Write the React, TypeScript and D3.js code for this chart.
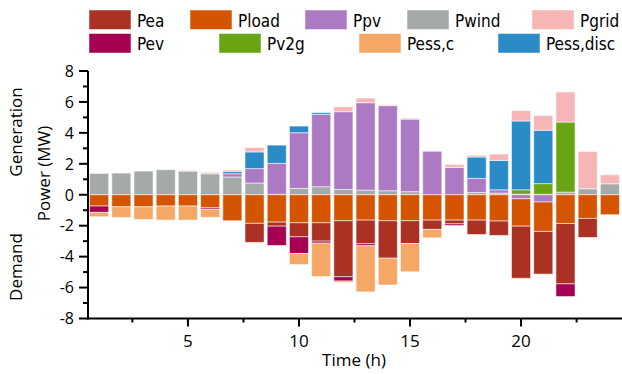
import React from "react";
import * as d3 from "d3";

const hours = d3.range(1, 25);

const Pwind = [1.38, 1.40, 1.53, 1.62, 1.53, 1.36, 1.15, 0.76, 0.03, 0.41, 0.52, 0.34, 0.30, 0.26, 0.20, 0, 0, 0.15, 0.11, 0.04, 0.03, 0.17, 0.39, 0.71];
const Ppv = [0, 0, 0, 0, 0, 0, 0.21, 0.93, 2.00, 3.60, 4.68, 5.03, 5.65, 5.50, 4.69, 2.81, 1.77, 0.91, 0.21, -0.26, -0.47, 0, 0, 0];
const Pv2g = [0, 0, 0, 0, 0, 0, 0, 0, 0, 0, 0, 0, 0, 0, 0, 0, 0, 0, 0, 0.28, 0.69, 4.53, 0, 0];
const PessDisc = [0, 0, 0, 0, 0, 0, 0.15, 1.08, 1.18, 0.43, 0.11, 0, 0, 0, 0, 0, 0, 1.38, 1.90, 4.45, 3.45, 0, 0, 0];
const Pgrid = [0, 0, 0, 0, 0.04, 0.09, 0.09, 0.28, 0, 0, 0, 0.32, 0.30, 0.06, 0.06, 0, 0.19, 0.11, 0.41, 0.67, 0.95, 1.94, 2.41, 0.58];
const Pload = [-0.73, -0.78, -0.78, -0.73, -0.73, -0.84, -1.68, -1.85, -1.77, -1.81, -1.81, -1.68, -1.64, -1.68, -1.68, -1.64, -1.64, -1.64, -1.70, -1.77, -1.90, -1.86, -1.53, -1.29];
const Pea = [0, 0, 0, 0, 0, 0, 0, -1.23, -0.26, -0.91, -1.19, -3.62, -1.53, -2.42, -1.47, -0.60, -0.24, -0.93, -0.93, -3.37, -2.76, -3.90, -1.23, 0];
const Pev = [-0.41, 0, 0, 0, 0, -0.10, 0, 0, -1.25, -1.08, -0.13, -0.28, -0.13, 0, 0, 0, -0.11, 0, 0, 0, 0, -0.82, 0, 0];
const PessC = [-0.28, -0.69, -0.82, -0.91, -0.91, -0.52, 0, 0, 0, -0.71, -2.16, -0.09, -2.98, -1.73, -1.83, -0.54, 0, 0, 0, 0, 0, 0, 0, 0];

const yTicks = [-8, -6, -4, -2, 0, 2, 4, 6, 8];
const xTicks = [5, 10, 15, 20];

const seriesMap: Record<string, number[]> = {
  Pwind, Ppv, Pload, Pea, Pev, Pv2g, "Pess,c": PessC, "Pess,disc": PessDisc, Pgrid,
};
const stackKeys = ["Pwind", "Ppv", "Pload", "Pea", "Pev", "Pv2g", "Pess,c", "Pess,disc", "Pgrid"];

const colors: Record<string, string> = {
  Pea: "#AA3123",
  Pload: "#D55401",
  Ppv: "#AC79C3",
  Pwind: "#A5AAA8",
  Pgrid: "#F6B6B5",
  Pev: "#A50052",
  Pv2g: "#69A512",
  "Pess,c": "#F5A766",
  "Pess,disc": "#2A8BC7",
};

const legendRow1 = ["Pea", "Pload", "Ppv", "Pwind", "Pgrid"];
const legendRow2 = ["Pev", "Pv2g", "Pess,c", "Pess,disc"];
const legendX1 = [89, 190, 305, 407, 532];
const legendX2 = [89, 219, 359, 498];

export default function App() {
  const W = 622, H = 374;
  const x = d3.scaleLinear().domain([0.5, 24.5]).range([88, 621]);
  const y = d3.scaleLinear().domain([-8, 8]).range([318.5, 71]);
  const unit = x(2) - x(1);
  const bw = unit * 0.86;

  const table = hours.map((h, i) => {
    const row: any = { hour: h };
    stackKeys.forEach((k) => (row[k] = seriesMap[k][i]));
    return row;
  });
  const stacked = d3.stack<any>().keys(stackKeys).offset(d3.stackOffsetDiverging)(table);

  const axisFont = "'Open Sans', 'Noto Sans', sans-serif";
  const legendFont = "'DejaVu Sans Condensed', 'DejaVu Sans', sans-serif";

  const minorY = d3.range(-7, 8, 2);
  const minorX = [2.5, 7.5, 12.5, 17.5, 22.5];

  return (
    <svg width={W} height={H} style={{ position: "absolute", left: 0, top: 0, background: "#fff" }}>
      <rect x={0} y={0} width={W} height={H} fill="#fff" />
      {stacked.map((s) => (
        <g key={s.key} fill={colors[s.key]}>
          {s.map((d, i) => {
            const y0 = d[0], y1 = d[1];
            if (Math.abs(y1 - y0) < 1e-9) return null;
            const top = y(Math.max(y0, y1));
            const bot = y(Math.min(y0, y1));
            return (
              <rect
                key={i}
                x={x(hours[i]) - bw / 2}
                y={top}
                width={bw}
                height={bot - top}
                stroke="#fff"
                strokeOpacity={0.55}
                strokeWidth={1}
              />
            );
          })}
        </g>
      ))}

      {/* Y axis */}
      <line x1={88} x2={88} y1={y(8)} y2={y(-8) + 1} stroke="#000" strokeWidth={2} />
      {yTicks.map((t) => (
        <g key={t}>
          <line x1={79} x2={88} y1={y(t)} y2={y(t)} stroke="#000" strokeWidth={2} />
          <text x={74} y={y(t)} dy="0.36em" textAnchor="end" fontFamily={axisFont} fontSize={16} fill="#000">
            {t}
          </text>
        </g>
      ))}
      {minorY.map((t) => (
        <line key={t} x1={83} x2={88} y1={y(t)} y2={y(t)} stroke="#000" strokeWidth={2} />
      ))}

      {/* X axis */}
      <line x1={87} x2={622} y1={y(-8)} y2={y(-8)} stroke="#000" strokeWidth={2} />
      {xTicks.map((t) => (
        <g key={t}>
          <line x1={x(t)} x2={x(t)} y1={y(-8)} y2={y(-8) + 8} stroke="#000" strokeWidth={2} />
          <text x={x(t)} y={347} textAnchor="middle" fontFamily={axisFont} fontSize={17} fill="#000">
            {t}
          </text>
        </g>
      ))}
      {minorX.map((t) => (
        <line key={t} x1={x(t)} x2={x(t)} y1={y(-8)} y2={y(-8) + 4} stroke="#000" strokeWidth={2} />
      ))}
      <text x={354} y={366} textAnchor="middle" fontFamily={axisFont} fontSize={17} fill="#000">
        Time (h)
      </text>

      {/* Y labels */}
      <text transform="translate(50,173.5) rotate(-90)" textAnchor="middle" fontFamily={axisFont} fontSize={17} fill="#000">
        Power (MW)
      </text>
      <text transform="translate(22,132) rotate(-90)" textAnchor="middle" fontFamily={axisFont} fontSize={17} fill="#000">
        Generation
      </text>
      <text transform="translate(22,267) rotate(-90)" textAnchor="middle" fontFamily={axisFont} fontSize={17} fill="#000">
        Demand
      </text>

      {/* Legend */}
      {legendRow1.map((k, i) => (
        <g key={k}>
          <rect x={legendX1[i]} y={10} width={42} height={19.5} fill={colors[k]} stroke="#fff" strokeOpacity={0.5} />
          <text x={legendX1[i] + 48} y={26.5} fontFamily={legendFont} fontSize={17} fill="#000">
            {k}
          </text>
        </g>
      ))}
      {legendRow2.map((k, i) => (
        <g key={k}>
          <rect x={legendX2[i]} y={33.5} width={42} height={19.5} fill={colors[k]} stroke="#fff" strokeOpacity={0.5} />
          <text x={legendX2[i] + 48} y={50} fontFamily={legendFont} fontSize={17} fill="#000">
            {k}
          </text>
        </g>
      ))}
    </svg>
  );
}
